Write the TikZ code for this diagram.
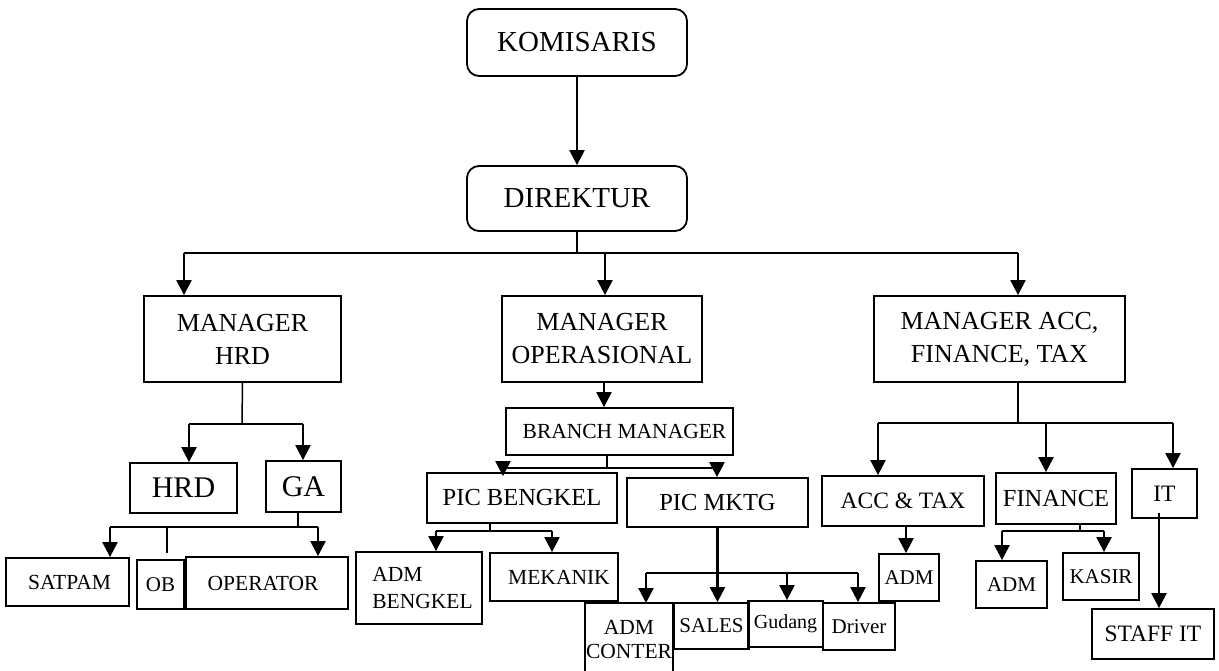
\documentclass[tikz,border=0pt]{standalone}
\usepackage{fontspec}
\setmainfont{Liberation Serif}
\usetikzlibrary{arrows.meta}
\begin{document}
\begin{tikzpicture}[x=1pt,y=-1pt,
  box/.style={draw, line width=1.8pt, inner sep=0pt, align=center},
  rbox/.style={box, rounded corners=12pt},
  arr/.style={-{Triangle[length=15pt,width=15pt]}, line width=2.3pt},
  ln/.style={line width=1.5pt},
  fA/.style={font=\fontsize{29}{33}\selectfont},
  fH/.style={font=\fontsize{30}{33}\selectfont},
  fB/.style={font=\fontsize{26}{33}\selectfont},
  fC/.style={font=\fontsize{24.5}{28}\selectfont},
  fD/.style={font=\fontsize{21.5}{27}\selectfont},
  fE/.style={font=\fontsize{21}{24}\selectfont},
  fF/.style={font=\fontsize{23.5}{27}\selectfont}]
\useasboundingbox (0,0) rectangle (1219,671);
% top
\node[rbox,fA,minimum width=220pt,minimum height=67pt] (kom) at (577,42.5) {KOMISARIS};
\node[rbox,fA,minimum width=220pt,minimum height=65pt] (dir) at (577,198.5) {DIREKTUR};
\draw[arr] (kom.south) -- (dir.north);
% managers
\node[box,fB,minimum width=197pt,minimum height=86pt] (mhrd) at (242.5,339) {MANAGER\\HRD};
\node[box,fB,minimum width=200pt,minimum height=86pt] (mops) at (602,339) {MANAGER\\OPERASIONAL};
\node[box,fB,minimum width=251pt,minimum height=86pt] (macc) at (999.5,339) {MANAGER ACC,\\FINANCE, TAX};
\coordinate (bus) at (577,253);
\coordinate (busL) at (184,253);
\coordinate (busM) at (605,253);
\coordinate (busR) at (1018,253);
\draw[ln] (dir.south) -- (bus);
\draw[ln] (busL) -- (busR);
\draw[arr] (busL) -- (busL |- mhrd.north);
\draw[arr] (busM) -- (busM |- mops.north);
\draw[arr] (busR) -- (busR |- macc.north);
% HRD branch
\node[box,fH,minimum width=107pt,minimum height=50pt] (hrd) at (183.5,488) {HRD};
\node[box,fH,minimum width=75pt,minimum height=51pt] (ga) at (303.5,486.5) {GA};
\coordinate (h0) at (242,424);
\coordinate (hL) at (189,424);
\coordinate (hR) at (303,424);
\draw[ln] (mhrd.south) -- (h0);
\draw[ln] (hL) -- (hR);
\draw[arr] (hL) -- (hL |- hrd.north);
\draw[arr] (hR) -- (hR |- ga.north);
\node[box,fD,minimum width=123pt,minimum height=48pt] (satpam) at (67.5,582) {\hspace*{4pt}SATPAM};
\node[box,fE,minimum width=47pt,minimum height=49pt] (ob) at (160.5,584.5) {OB};
\node[box,fD,minimum width=162pt,minimum height=52pt] (oper) at (267,583) {OPERATOR\hspace*{8pt}};
\coordinate (g0) at (298,527);
\coordinate (gL) at (110,527);
\coordinate (gM) at (167,527);
\coordinate (gR) at (318,527);
\coordinate (gOB) at (167,553);
\draw[ln] (ga.south -| g0) -- (g0);
\draw[ln] (gL) -- (gR);
\draw[arr] (gL) -- (gL |- satpam.north);
\draw[ln] (gM) -- (gOB);
\draw[arr] (gR) -- (gR |- oper.north);
% Operasional branch
\node[box,fD,minimum width=227pt,minimum height=47pt] (bm) at (619.5,431.5) {\hspace*{10pt}BRANCH MANAGER};
\coordinate (o0) at (604,382);
\draw[arr] (o0) -- (o0 |- bm.north);
\node[box,fC,minimum width=190pt,minimum height=50pt] (picb) at (522,498) {PIC BENGKEL};
\node[box,fC,minimum width=181pt,minimum height=49pt] (picm) at (717.5,502.5) {PIC MKTG};
\coordinate (b0) at (607,468);
\coordinate (bL) at (503,468);
\coordinate (bR) at (717,468);
\draw[ln] (bm.south -| b0) -- (b0);
\draw[ln] (bL) -- (bR);
\draw[arr] (bL) -- ([yshift=-4pt]bL |- picb.north);
\draw[arr] (bR) -- (bR |- picm.north);
\node[box,fD,align=left,minimum width=126pt,minimum height=72pt] (admb) at (419,588) {\hspace*{7pt}ADM\\\hspace*{7pt}BENGKEL};
\node[box,fD,minimum width=128pt,minimum height=48pt] (mek) at (554,577) {\hspace*{10pt}MEKANIK};
\coordinate (k0) at (490,531);
\coordinate (kL) at (436,531);
\coordinate (kR) at (552,531);
\draw[ln] (picb.south -| k0) -- (k0);
\draw[ln] (kL) -- (kR);
\draw[arr] (kL) -- (kL |- admb.north);
\draw[arr] (kR) -- (kR |- mek.north);
\node[inner sep=0pt,align=center,minimum width=88pt,minimum height=68pt,font=\fontsize{21.5}{24}\selectfont] (admc) at (629,640) {ADM\\CONTER};
\draw[line width=1.8pt] ([yshift=3pt]admc.south west) -- (admc.north west |- 0,603) -- (admc.north east |- 0,603) -- ([yshift=3pt]admc.south east);
\coordinate (admcTop) at (646,603);
\node[box,fE,minimum width=75pt,minimum height=46pt] (sales) at (711.5,626) {SALES};
\node[box,font=\fontsize{20}{24}\selectfont,minimum width=75pt,minimum height=46pt] (gud) at (785.5,624) {Gudang};
\node[box,fE,minimum width=72pt,minimum height=47pt] (drv) at (859,626.5) {Driver};
\coordinate (mL) at (646,573);
\coordinate (mG) at (787,573);
\coordinate (mR) at (858,573);
\draw[arr] (picm.south) -- (picm.south |- sales.north);
\draw[ln] (mL) -- (mR);
\draw[arr] (mL) -- (admcTop);
\draw[arr] (mG) -- (mG |- gud.north);
\draw[arr] (mR) -- (mR |- drv.north);
% ACC branch
\node[box,fF,minimum width=162pt,minimum height=50pt] (acct) at (903,501) {ACC \& TAX};
\node[box,fC,minimum width=120pt,minimum height=51pt] (fin) at (1056,498.5) {FINANCE};
\node[box,fF,minimum width=65pt,minimum height=49pt] (it) at (1164.5,493.5) {IT};
\coordinate (a0) at (1018,423);
\coordinate (aL) at (878,423);
\coordinate (aM) at (1046,423);
\coordinate (aR) at (1173,423);
\draw[ln] (busR |- macc.south) -- (a0);
\draw[ln] (aL) -- (aR);
\draw[arr] (aL) -- (aL |- acct.north);
\draw[arr] (aM) -- (aM |- fin.north);
\draw[arr] (aR) -- (aR |- it.north);
\node[box,fE,minimum width=60pt,minimum height=47pt] (adm1) at (909,577.5) {ADM};
\coordinate (t0) at (906,526);
\draw[arr] (acct.south -| t0) -- (t0 |- adm1.north);
\node[box,fE,minimum width=71pt,minimum height=47pt] (adm2) at (1011.5,584.5) {ADM};
\node[box,fE,minimum width=76pt,minimum height=47pt] (kasir) at (1101,576.5) {KASIR};
\coordinate (f0) at (1080,531);
\coordinate (fL) at (1002,531);
\coordinate (fR) at (1104,531);
\draw[ln] (fin.south -| f0) -- (f0);
\draw[ln] (fL) -- (fR);
\draw[arr] (fL) -- (fL |- adm2.north);
\draw[arr] (fR) -- (fR |- kasir.north);
\node[box,fF,minimum width=122pt,minimum height=50pt] (staff) at (1153,634) {STAFF IT};
\coordinate (i0) at (1159,513);
\draw[arr] (i0) -- (i0 |- staff.north);
\end{tikzpicture}
\end{document}
